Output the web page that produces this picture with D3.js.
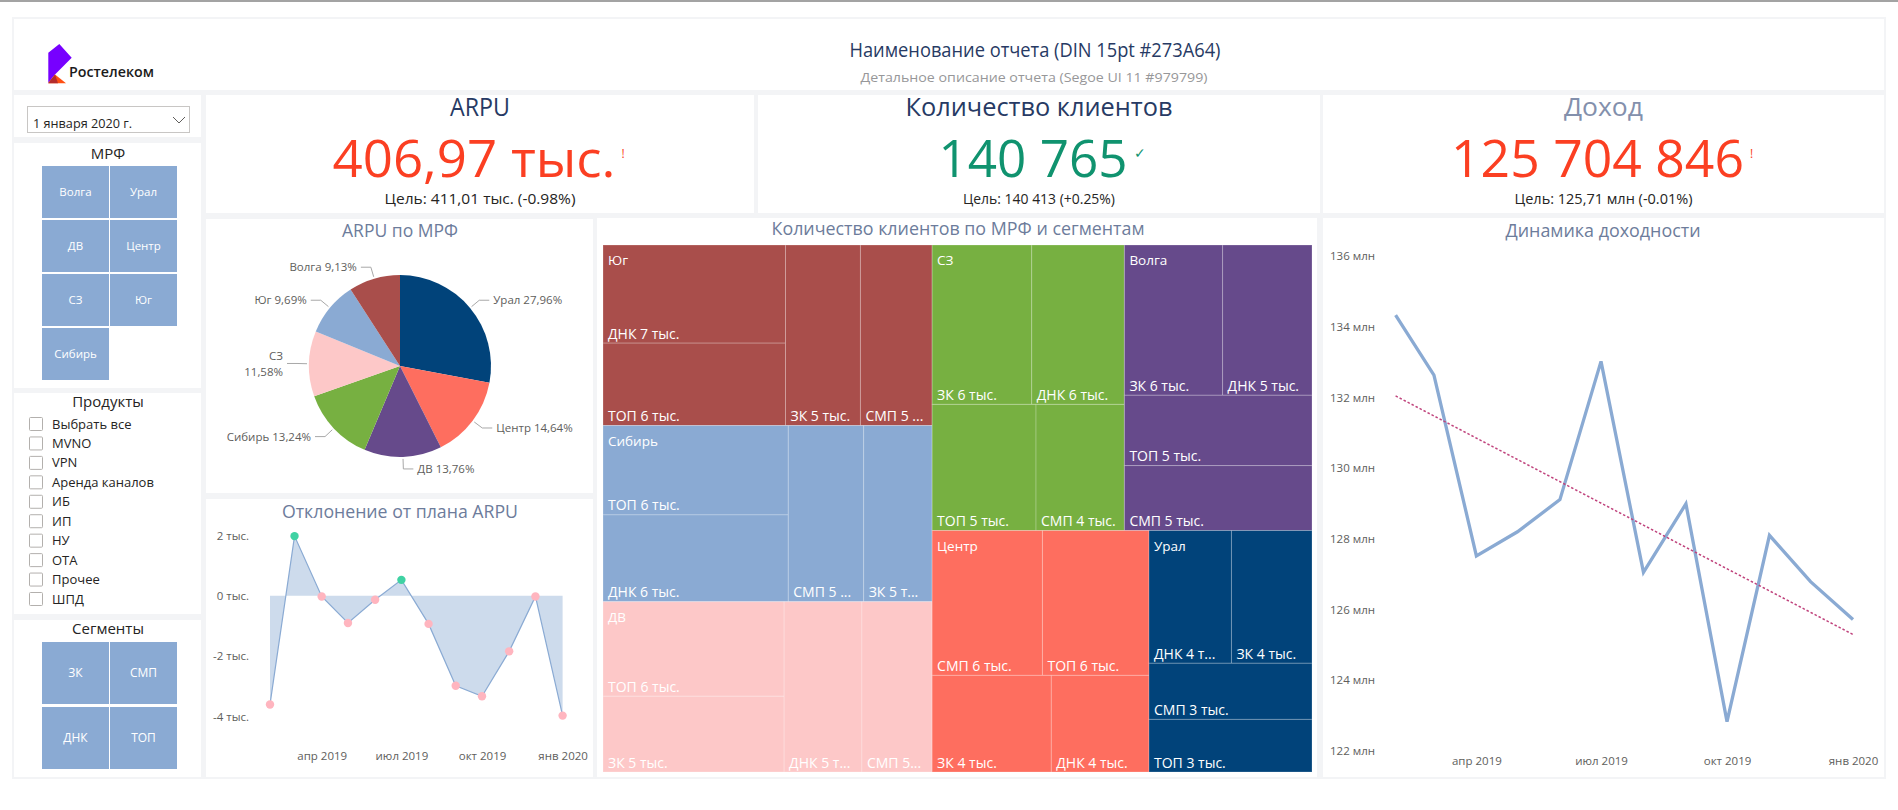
<!DOCTYPE html>
<html><head><meta charset="utf-8">
<script src="https://cdn.jsdelivr.net/npm/d3@7"></script>
<style>
html,body{margin:0;padding:0;background:#fff;}
svg{display:block;}
text{font-family:'Open Sans','Noto Sans',sans-serif;}
</style></head><body>
<svg id="c" width="1898" height="810"></svg>
<script>
// ---------------- DATA ----------------
const reportTitle = "Наименование отчета (DIN 15pt #273A64)";
const reportSubtitle = "Детальное описание отчета (Segoe UI 11 #979799)";
const brandName = "Ростелеком";
const dateLabel = "1 января 2020 г.";
const mrfButtons = ["Волга","Урал","ДВ","Центр","СЗ","Юг","Сибирь"];
const productItems = ["Выбрать все","MVNO","VPN","Аренда каналов","ИБ","ИП","НУ","ОТА","Прочее","ШПД"];
const segmentButtons = ["ЗК","СМП","ДНК","ТОП"];

const kpiTitles  = ["ARPU","Количество клиентов","Доход"];
const kpiValues  = ["406,97 тыс.","140 765","125 704 846"];
const kpiTargets = ["Цель: 411,01 тыс. (-0.98%)","Цель: 140 413 (+0.25%)","Цель: 125,71 млн (-0.01%)"];
const kpiStatus  = ["!","✓","!"];

const pieRegions = ["Урал","Центр","ДВ","Сибирь","СЗ","Юг","Волга"];
const pieShares  = [27.96,14.64,13.76,13.24,11.58,9.69,9.13];

const monthKeys = ["2019-02","2019-03","2019-04","2019-05","2019-06","2019-07","2019-08","2019-09","2019-10","2019-11","2019-12","2020-01"];
const arpuDeviation = [-3600,1980,-20,-900,-130,530,-930,-2980,-3330,-1840,-20,-3970];
const revenueMln = [134.33,132.63,127.52,128.20,129.11,133.02,127.05,128.99,122.83,128.10,126.79,125.72];
const devTicks = [-4000,-2000,0,2000];
const revTicks = [122,124,126,128,130,132,134,136];

const tmRegions  = ["Юг","Сибирь","ДВ","СЗ","Волга","Центр","Урал"];
const tmSegments = ["ЗК","СМП","ДНК","ТОП"];
const tmZK  = [5097,4541,5170,5981,5560,4339,4028];
const tmSMP = [4876,5005,4505,4200,4588,6018,3447];
const tmDNK = [6745,6059,4992,5562,5059,3559,4121];
const tmTOP = [5666,6237,6450,4939,4975,5815,3231];

// ---------------- STYLE ----------------
const DIN = "Roboto, 'DejaVu Sans', sans-serif";
const NUM = "'Liberation Sans', Arial, sans-serif";
const pieColors = ["#01437a","#fe6e5f","#664a8b","#77b041","#fdc8c8","#8aaad3","#a94e4b"];
const regionColors = {"Юг":"#a94e4b","Сибирь":"#8aaad3","ДВ":"#fdc8c8","СЗ":"#77b041","Волга":"#664a8b","Центр":"#fe6e5f","Урал":"#01437a"};
const titleColor = "#6d7c9b";
const axisColor = "#605e5c";

const svg = d3.select("#c");
function T(x,y,str,o={}){
  const t = svg.append("text").attr("x",x).attr("y",y).text(str)
    .attr("font-size",o.size||12).attr("fill",o.fill||"#252423")
    .attr("text-anchor",o.anchor||"start");
  if(o.din) t.attr("font-family",DIN);
  if(o.font) t.attr("font-family",o.font);
  if(o.weight) t.attr("font-weight",o.weight);
  if(o.len) t.attr("textLength",o.len).attr("lengthAdjust","spacingAndGlyphs");
  return t;
}

// ---------------- CANVAS ----------------
svg.append("rect").attr("width",1898).attr("height",810).attr("fill","#fff");
svg.append("rect").attr("x",0).attr("y",0).attr("width",1898).attr("height",2).attr("fill","#a3a3a3");
svg.append("rect").attr("x",12).attr("y",17).attr("width",1874).attr("height",762).attr("fill","#f3f4f6");
const panels = [[14,19,1870,71],[14,95,187,42],[14,143,187,245],[14,393,187,221],[14,620,187,157],
  [206,95,548,118],[758,95,562,118],[1323,95,561,118],[206,219,387,274],[206,499,387,278],
  [597,218,720,559],[1323,218,561,559]];
svg.selectAll("rect.panel").data(panels).join("rect").attr("class","panel")
  .attr("x",d=>d[0]).attr("y",d=>d[1]).attr("width",d=>d[2]).attr("height",d=>d[3]).attr("fill","#fff");

// ---------------- HEADER ----------------
const logo = svg.append("g");
logo.append("path").attr("d","M48.3,52.7 L59.3,44 L71.7,57.7 L55,74.5 L48.3,82.7 Z").attr("fill","#7700ff");
logo.append("path").attr("d","M55,74.5 L66,83.3 L48.3,83.3 Z").attr("fill","#ff4f12");
logo.append("path").attr("d","M55,74.5 L58,83.3 L48.3,83.3 L48.3,82.7 Z").attr("fill","#b42c2c");
T(69,77,brandName,{size:15,fill:"#1b1b1b",weight:600,len:85});
T(1035,57,reportTitle,{size:20,fill:"#273A64",din:true,anchor:"middle",len:371,weight:500});
T(1034,82,reportSubtitle,{size:13.5,fill:"#979799",anchor:"middle",len:347,din:true});

// ---------------- LEFT SLICERS ----------------
svg.append("rect").attr("x",27.5).attr("y",106.5).attr("width",162).attr("height",26)
  .attr("fill","#fff").attr("stroke","#c8c6c4");
T(33,127.5,dateLabel,{size:13.5,din:true,len:99});
svg.append("path").attr("d","M173,117 L179,123 L185,117").attr("fill","none").attr("stroke","#605e5c").attr("stroke-width",1);

T(108,159,"МРФ",{size:15,din:true,anchor:"middle"});
const colX = d3.scaleBand().domain([0,1]).range([42,177]).paddingInner(0.0147);
const rowY = d3.scaleBand().domain([0,1,2,3]).range([166,380]).paddingInner(0.037);
const mb = svg.append("g").selectAll("g").data(mrfButtons).join("g")
  .attr("transform",(d,i)=>`translate(${colX(i%2)},${rowY(Math.floor(i/2))})`);
mb.append("rect").attr("width",colX.bandwidth()).attr("height",rowY.bandwidth()).attr("fill","#8aaad3");
mb.append("text").attr("x",colX.bandwidth()/2).attr("y",rowY.bandwidth()/2+4).attr("text-anchor","middle")
  .attr("fill","#fff").attr("font-size",11.5).attr("font-family",DIN).text(d=>d);

T(108,407,"Продукты",{size:15,din:true,anchor:"middle"});
const prodY = d3.scalePoint().domain(d3.range(productItems.length)).range([424,599]);
const pg = svg.append("g").selectAll("g").data(productItems).join("g")
  .attr("transform",(d,i)=>`translate(0,${prodY(i)})`);
pg.append("rect").attr("x",29.5).attr("y",-6.5).attr("width",13).attr("height",13).attr("rx",1)
  .attr("fill","#fff").attr("stroke","#b3b0ad");
pg.append("text").attr("x",52).attr("y",4.5).attr("font-size",13).attr("fill","#252423").text(d=>d);

T(108,634,"Сегменты",{size:15,din:true,anchor:"middle"});
const segRow = d3.scaleBand().domain([0,1]).range([642,769]).paddingInner(0.046);
const sb = svg.append("g").selectAll("g").data(segmentButtons).join("g")
  .attr("transform",(d,i)=>`translate(${colX(i%2)},${segRow(Math.floor(i/2))})`);
sb.append("rect").attr("width",colX.bandwidth()).attr("height",segRow.bandwidth()).attr("fill","#8aaad3");
sb.append("text").attr("x",colX.bandwidth()/2).attr("y",segRow.bandwidth()/2+4).attr("text-anchor","middle")
  .attr("fill","#fff").attr("font-size",12).attr("font-family",DIN).text(d=>d);

// ---------------- KPI CARDS ----------------
const kpiCenters = [480,1039,1603.5];
const kpiTitleColors = ["#273A64","#273A64","#8390ac"];
const kpiTitleLen = [60,267,79];
const kpiValueColors = ["#fb3f22","#10936f","#fb3f22"];
const kpiValueLen = [283,189,293];
const kpiTargetLen = [191,152,178];
kpiTitles.forEach((t,i)=>{
  const c = kpiCenters[i];
  T(c,116,t,{size:25,din:true,anchor:"middle",fill:kpiTitleColors[i],len:kpiTitleLen[i]});
  const vc = c-6;
  T(vc,176.5,kpiValues[i],{size:52,font:NUM,anchor:"middle",fill:kpiValueColors[i],len:kpiValueLen[i]});
  const sx = vc + kpiValueLen[i]/2 + 6;
  T(sx,158,kpiStatus[i],{size:i===1?14:12,fill:kpiValueColors[i]});
  T(c,204,kpiTargets[i],{size:14.5,font:NUM,anchor:"middle",fill:"#252423",len:kpiTargetLen[i]});
});

// ---------------- PIE ----------------
T(400,237,"ARPU по МРФ",{size:18.5,din:true,anchor:"middle",fill:titleColor,len:116});
const pcx=400, pcy=366, pr=91;
const pieArcs = d3.pie().sort(null).value(d=>d)(pieShares);
const arcGen = d3.arc().innerRadius(0).outerRadius(pr);
const pieG = svg.append("g").attr("transform",`translate(${pcx},${pcy})`);
pieG.selectAll("path").data(pieArcs).join("path").attr("d",arcGen).attr("fill",(d,i)=>pieColors[i]);
const pctFmt = v => d3.format(".2f")(v).replace(".",",")+"%";
pieArcs.forEach((a,i)=>{
  const mid=(a.startAngle+a.endAngle)/2, sx=Math.sin(mid), sy=-Math.cos(mid);
  const p1=[sx*(pr+2),sy*(pr+2)], p2=[sx*(pr+12),sy*(pr+12)];
  const side = sx>=0?1:-1;
  const p3=[p2[0]+side*10,p2[1]];
  pieG.append("polyline").attr("points",[p1,p2,p3].map(p=>p.join(",")).join(" "))
    .attr("fill","none").attr("stroke","#a8a8a8").attr("stroke-width",1);
  const t = pieG.append("text").attr("x",p3[0]+side*4).attr("font-size",11.5).attr("fill",axisColor)
    .attr("text-anchor",side>0?"start":"end");
  if(Math.abs(sy)<0.15){
    t.append("tspan").attr("x",p3[0]+side*4).attr("y",p2[1]-3).text(pieRegions[i]);
    t.append("tspan").attr("x",p3[0]+side*4).attr("y",p2[1]+13).text(pctFmt(pieShares[i]));
  } else {
    t.attr("y",p2[1]+4).text(pieRegions[i]+" "+pctFmt(pieShares[i]));
  }
});

// ---------------- DEVIATION ----------------
const ru = d3.timeFormatLocale({
  dateTime:"%A, %e %B %Y г. %X", date:"%d.%m.%Y", time:"%H:%M:%S", periods:["AM","PM"],
  days:["воскресенье","понедельник","вторник","среда","четверг","пятница","суббота"],
  shortDays:["вс","пн","вт","ср","чт","пт","сб"],
  months:["январь","февраль","март","апрель","май","июнь","июль","август","сентябрь","октябрь","ноябрь","декабрь"],
  shortMonths:["янв","фев","мар","апр","май","июн","июл","авг","сен","окт","ноя","дек"]});
const fmtMonth = ru.format("%b %Y");
const dates = monthKeys.map(d3.timeParse("%Y-%m"));

T(400,518,"Отклонение от плана ARPU",{size:18.5,din:true,anchor:"middle",fill:titleColor,len:236});
const dx = d3.scaleTime().domain(d3.extent(dates)).range([270,562.6]);
const dy = d3.scaleLinear().domain([-4000,2000]).range([716.5,535.5]);
const devData = dates.map((d,i)=>({d,v:arpuDeviation[i]}));
svg.append("path").datum(devData).attr("fill","#cddbec")
  .attr("d",d3.area().x(p=>dx(p.d)).y0(dy(0)).y1(p=>dy(p.v)));
svg.append("path").datum(devData).attr("fill","none").attr("stroke","#8aaad3").attr("stroke-width",1.2)
  .attr("d",d3.line().x(p=>dx(p.d)).y(p=>dy(p.v)));
svg.append("g").selectAll("circle").data(devData).join("circle")
  .attr("cx",p=>dx(p.d)).attr("cy",p=>dy(p.v)).attr("r",4.2)
  .attr("fill",p=>p.v>=0?"#3fd2a3":"#ffb5bf");
const devYAxis = svg.append("g").attr("transform","translate(249,0)")
  .call(d3.axisLeft(dy).tickValues(devTicks).tickSize(0).tickPadding(0).tickFormat(v=>(v/1000)+" тыс."));
const devXAxis = svg.append("g").attr("transform","translate(0,752)")
  .call(d3.axisBottom(dx).ticks(d3.timeMonth.every(3)).tickSize(0).tickPadding(0).tickFormat(fmtMonth));
[devYAxis,devXAxis].forEach(g=>{g.select(".domain").remove();
  g.selectAll("text").attr("font-family","'Open Sans',sans-serif").attr("font-size",11.5).attr("fill",axisColor);});

// ---------------- TREEMAP ----------------
T(958,235,"Количество клиентов по МРФ и сегментам",{size:18.5,din:true,anchor:"middle",fill:titleColor,len:373});
const tmSeries = [tmZK,tmSMP,tmDNK,tmTOP];
const tmRoot = d3.hierarchy({name:"root",children:tmRegions.map((r,i)=>({name:r,
    children:tmSegments.map((s,j)=>({name:s,value:tmSeries[j][i]}))}))})
  .sum(d=>d.value||0).sort((a,b)=>b.value-a.value);
d3.treemap().tile(d3.treemapSquarify).size([709,527])(tmRoot);
const tmG = svg.append("g").attr("transform","translate(603,245)");
const leaf = tmG.selectAll("g.leaf").data(tmRoot.leaves()).join("g").attr("class","leaf");
leaf.append("rect").attr("x",d=>d.x0).attr("y",d=>d.y0)
  .attr("width",d=>d.x1-d.x0).attr("height",d=>d.y1-d.y0)
  .attr("fill",d=>regionColors[d.parent.data.name])
  .attr("stroke","rgba(255,255,255,0.22)").attr("stroke-width",1);
leaf.each(function(d){
  const full = d.data.name+" "+Math.round(d.value/1000)+" тыс.";
  const t = d3.select(this).append("text").attr("x",d.x0+5).attr("y",d.y1-4.5)
    .attr("font-size",14).attr("fill","#fff").text(full);
  const avail = (d.x1-d.x0)-12.4;
  let s = full;
  if(t.node().getComputedTextLength()>avail){
    while(s.length>1){ s=s.slice(0,-1); t.text(s+"..."); if(t.node().getComputedTextLength()<=avail) break; }
  }
});
tmG.selectAll("text.reg").data(tmRoot.children).join("text").attr("class","reg")
  .attr("x",d=>d.x0+5).attr("y",d=>d.y0+20).attr("font-size",13.5).attr("fill","#fff").text(d=>d.data.name);

// ---------------- REVENUE ----------------
T(1603,237,"Динамика доходности",{size:18.5,din:true,anchor:"middle",fill:titleColor,len:195});
const rx = d3.scaleTime().domain(d3.extent(dates)).range([1395.6,1853]);
const ry = d3.scaleLinear().domain([122,136]).range([751,256]);
const revData = dates.map((d,i)=>({d,v:revenueMln[i]}));
svg.append("path").datum(revData).attr("fill","none").attr("stroke","#8aaad3").attr("stroke-width",3.3)
  .attr("stroke-linejoin","miter").attr("d",d3.line().x(p=>rx(p.d)).y(p=>ry(p.v)));
// linear trend (least squares on time)
const tx = revData.map(p=>+p.d), tv = revData.map(p=>p.v);
const mx = d3.mean(tx), mv = d3.mean(tv);
const slope = d3.sum(tx.map((x,i)=>(x-mx)*(tv[i]-mv)))/d3.sum(tx.map(x=>(x-mx)*(x-mx)));
const trend = [tx[0],tx[tx.length-1]].map(x=>({d:new Date(x),v:mv+slope*(x-mx)}));
svg.append("path").datum(trend).attr("fill","none").attr("stroke","#c0447d").attr("stroke-width",1.5)
  .attr("stroke-dasharray","2.5,2").attr("d",d3.line().x(p=>rx(p.d)).y(p=>ry(p.v)));
const revYAxis = svg.append("g").attr("transform","translate(1330,0)")
  .call(d3.axisRight(ry).tickValues(revTicks).tickSize(0).tickPadding(0).tickFormat(v=>v+" млн"));
const revXAxis = svg.append("g").attr("transform","translate(0,757)")
  .call(d3.axisBottom(rx).ticks(d3.timeMonth.every(3)).tickSize(0).tickPadding(0).tickFormat(fmtMonth));
[revYAxis,revXAxis].forEach(g=>{g.select(".domain").remove();
  g.selectAll("text").attr("font-family","'Open Sans',sans-serif").attr("font-size",11.5).attr("fill",axisColor);});
</script>
</body></html>
